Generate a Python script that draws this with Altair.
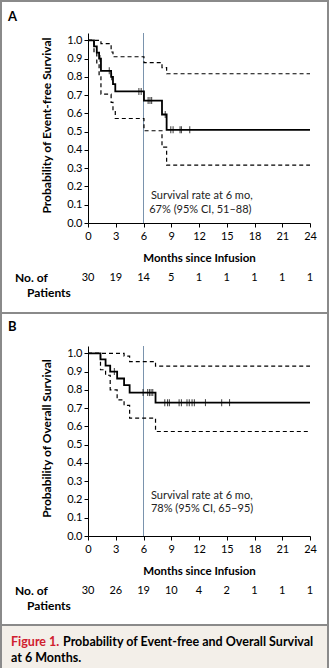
import altair as alt
import pandas as pd

# ---------------- data ----------------
months = [0, 3, 6, 9, 12, 15, 18, 21, 24]
A_at_risk = [30, 19, 14, 5, 1, 1, 1, 1, 1]
B_at_risk = [30, 26, 19, 10, 4, 2, 1, 1, 1]

# Panel A: event-free survival (step curve, with 95% CI bands)
A_times = [0, 0.65, 0.95, 1.2, 1.4, 2.5, 2.7, 2.95, 6.05, 8.0, 8.5]
A_surv = [1.0, 0.967, 0.933, 0.90, 0.833, 0.80, 0.76, 0.72, 0.67, 0.594, 0.51]
A_upper = [1.0, 1.0, 1.0, 1.0, 0.982, 0.936, 0.91, 0.91, 0.878, 0.851, 0.817]
A_lower = [1.0, 0.93, 0.87, 0.80, 0.705, 0.66, 0.615, 0.572, 0.505, 0.415, 0.317]
A_cens_t = [1.3, 2.3, 2.55, 5.5, 5.75, 6.5, 6.7, 6.88, 8.35, 8.95, 9.2, 9.95, 10.1, 11.0]
A_cens_s = [0.90, 0.833, 0.80, 0.72, 0.72, 0.67, 0.67, 0.67, 0.594, 0.51, 0.51, 0.51, 0.51, 0.51]
A_note = ["Survival rate at 6 mo,", "67% (95% CI, 51\u201388)"]

# Panel B: overall survival
B_times = [0, 1.35, 1.9, 2.4, 3.15, 3.9, 4.5, 7.3]
B_surv = [1.0, 0.967, 0.933, 0.90, 0.862, 0.826, 0.785, 0.73]
B_upper = [1.0, 1.0, 1.0, 1.0, 1.0, 0.985, 0.955, 0.93]
B_lower = [1.0, 0.91, 0.88, 0.80, 0.745, 0.715, 0.645, 0.572]
B_cens_t = [2.85, 5.95, 6.45, 6.65, 6.82, 7.0, 8.3, 8.6, 8.8, 9.85, 10.1, 10.7,
            10.95, 11.25, 11.5, 12.7, 14.45, 15.3]
B_cens_s = [0.90, 0.785, 0.785, 0.785, 0.785, 0.785] + [0.73] * 12
B_note = ["Survival rate at 6 mo,", "78% (95% CI, 65\u201395)"]

# ---------------- layout / style ----------------
W, H = 329, 668
FONT = "Lato"
X_RANGE = [88, 310]
Y_TOP = 1.04
A_Y_RANGE = [223, 33]
B_Y_RANGE = [536, 346]
GUIDE = "#7a93ad"
FRAME = "#8a8a8a"


def step_df(times, vals):
    return pd.DataFrame({"t": list(times) + [24], "s": list(vals) + [vals[-1]]})


def panel(times, surv, upper, lower, cens_t, cens_s, at_risk, y_range, ytitle,
          note, note_y, note_x):
    y0 = y_range[0]
    ppu = (y_range[0] - y_range[1]) / Y_TOP
    xs = alt.Scale(domain=[0, 24], range=X_RANGE, nice=False, zero=False)
    ys = alt.Scale(domain=[0, Y_TOP], range=y_range, nice=False, zero=False)
    xaxis = alt.Axis(values=months, orient="bottom", offset=y0 - H,
                     title="Months since Infusion", titleFont=FONT,
                     titleFontSize=11.5, titleFontWeight="bold", titleColor="black",
                     titleX=(X_RANGE[0] + X_RANGE[1]) / 2, titleY=35,
                     titleBaseline="middle", titleAlign="center",
                     labelFont=FONT, labelFontSize=11, labelColor="black",
                     labelPadding=3, tickSize=4, tickColor="black", tickWidth=1,
                     domainColor="black", domainWidth=1, grid=False,
                     labelFlush=False, labelOverlap=False)
    yaxis = alt.Axis(values=[i / 10 for i in range(11)], format=".1f",
                     orient="left", offset=-X_RANGE[0], title=ytitle,
                     titleFont=FONT, titleFontSize=12, titleFontWeight="bold",
                     titleColor="black", titleAngle=270,
                     titleX=-42, titleY=(y_range[0] + y_range[1]) / 2 - 3,
                     titleBaseline="middle", titleAlign="center",
                     labelFont=FONT, labelFontSize=11, labelColor="black",
                     labelPadding=2, tickSize=4, tickColor="black", tickWidth=1,
                     domainColor="black", domainWidth=1, grid=False,
                     labelFlush=False, labelOverlap=False)

    def X(f):
        return alt.X(f, type="quantitative", scale=xs, axis=xaxis)

    def Y(f):
        return alt.Y(f, type="quantitative", scale=ys, axis=yaxis)

    guide = alt.Chart(pd.DataFrame({"t": [6], "a": [0], "b": [Y_TOP]})).mark_rule(
        color=GUIDE, strokeWidth=1).encode(x=X("t"), y=Y("a"), y2="b")
    lo = alt.Chart(step_df(times, lower)).mark_line(
        interpolate="step-after", color="black", strokeWidth=1.2,
        strokeDash=[4, 3]).encode(x=X("t"), y=Y("s"))
    up = alt.Chart(step_df(times, upper)).mark_line(
        interpolate="step-after", color="black", strokeWidth=1.2,
        strokeDash=[4, 3]).encode(x=X("t"), y=Y("s"))
    km = alt.Chart(step_df(times, surv)).mark_line(
        interpolate="step-after", color="black", strokeWidth=1.8).encode(
        x=X("t"), y=Y("s"))
    cens = alt.Chart(pd.DataFrame({"t": cens_t, "s": cens_s})).mark_tick(
        orient="vertical", size=7, thickness=1.1, color="black").encode(
        x=X("t"), y=Y("s"))
    risk = alt.Chart(pd.DataFrame({"t": months, "n": at_risk,
                                   "y": [-55 / ppu] * len(months)})).mark_text(
        font=FONT, fontSize=11, color="black", align="center",
        baseline="middle").encode(x=X("t"), y=Y("y"), text="n:N")
    notes = alt.Chart(pd.DataFrame({"t": note_x, "y": note_y, "label": note})).mark_text(
        font=FONT, fontSize=11, color="#222222", align="left",
        baseline="middle").encode(x=X("t"), y=Y("y"), text="label:N")
    return alt.layer(guide, lo, up, km, cens, risk, notes)


panelA = panel(A_times, A_surv, A_upper, A_lower, A_cens_t, A_cens_s, A_at_risk,
               A_Y_RANGE, "Probability of Event-free Survival", A_note,
               [0.148, 0.071], [6.8, 6.62])
panelB = panel(B_times, B_surv, B_upper, B_lower, B_cens_t, B_cens_s, B_at_risk,
               B_Y_RANGE, "Probability of Overall Survival", B_note,
               [0.219, 0.148], [6.8, 6.8])

# ---------------- decorations (frame, labels, caption) ----------------
bg = alt.Chart(pd.DataFrame({"k": [0]})).mark_rect(color="#f3efe9").encode(
    x=alt.value(0), x2=alt.value(W), y=alt.value(626), y2=alt.value(H))


def hline(y):
    return alt.Chart(pd.DataFrame({"k": [0]})).mark_rule(
        color=FRAME, strokeWidth=2).encode(
        x=alt.value(0), x2=alt.value(W), y=alt.value(y))


def vline(x):
    return alt.Chart(pd.DataFrame({"k": [0]})).mark_rule(
        color=FRAME, strokeWidth=2).encode(
        x=alt.value(x), y=alt.value(0), y2=alt.value(H))


def label(text, x, y, size=12, weight="bold", color="black"):
    return alt.Chart(pd.DataFrame({"k": [0]})).mark_text(
        text=text, font=FONT, fontSize=size, fontWeight=weight, color=color,
        align="left", baseline="middle").encode(x=alt.value(x), y=alt.value(y))


deco = [
    hline(1), hline(313), hline(625), vline(1), vline(328),
    label("A", 8, 17, size=13), label("B", 8, 327, size=13),
    label("No. of", 15, 278), label("Patients", 27, 293),
    label("No. of", 15, 591), label("Patients", 27, 606),
    label("Figure 1.", 11, 642, size=12.5, color="#d0202f"),
    label("Probability of Event-free and Overall Survival", 63, 642, size=12.5),
    label("at 6 Months.", 11, 658, size=12.5),
]

chart = alt.layer(bg, panelA, panelB, *deco).resolve_scale(
    x="independent", y="independent").properties(
    width=W, height=H, autosize=alt.AutoSizeParams(type="none"), padding=0,
    background="white").configure_view(strokeWidth=0)

chart.save("out.html", embed_options={"renderer": "svg", "actions": False})
